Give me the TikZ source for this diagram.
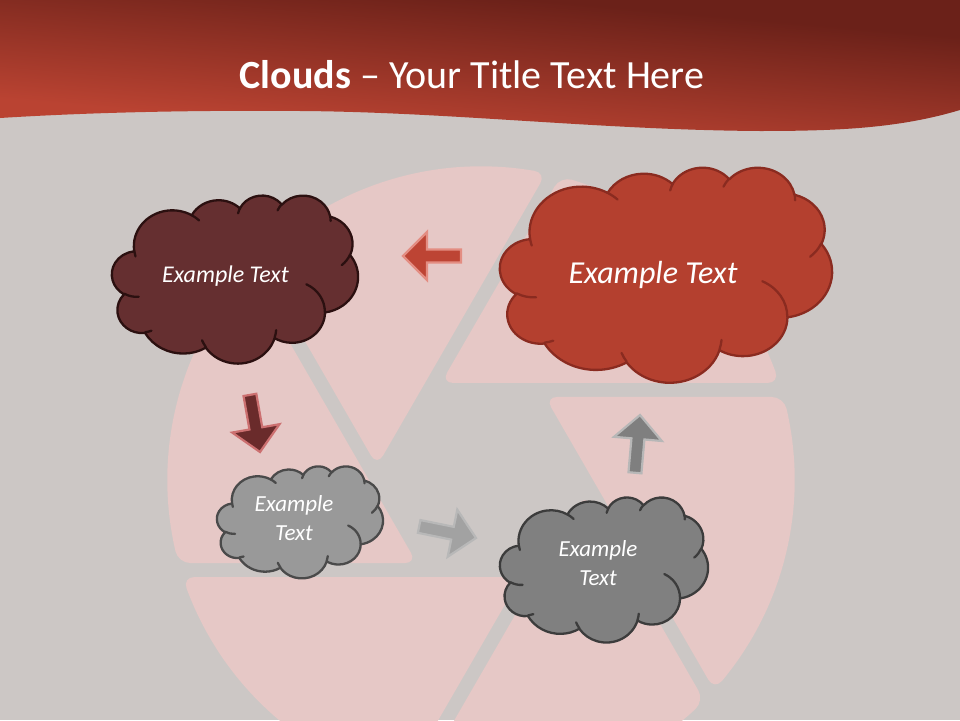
\documentclass[tikz,border=0pt]{standalone}
\usepackage{fontspec}
\setmainfont{Carlito}
\usetikzlibrary{calc}
\definecolor{bg}{HTML}{CCC7C5}
\definecolor{blade}{HTML}{E6C8C6}
\definecolor{hdark}{HTML}{6B2119}
\definecolor{hlight}{HTML}{BA4332}
\definecolor{maroonF}{HTML}{652F30}
\definecolor{maroonD}{HTML}{2B1010}
\definecolor{redF}{HTML}{B4402F}
\definecolor{redD}{HTML}{8A2B20}
\definecolor{lgrayF}{HTML}{999999}
\definecolor{lgrayD}{HTML}{4A4A4A}
\definecolor{dgrayF}{HTML}{808080}
\definecolor{dgrayD}{HTML}{3C3C3C}
\definecolor{arRedF}{HTML}{BD4434}
\definecolor{arRedD}{HTML}{E38D82}
\definecolor{arMarF}{HTML}{6A2B2B}
\definecolor{arMarD}{HTML}{CC7070}
\definecolor{arG1F}{HTML}{A2A2A2}
\definecolor{arG1D}{HTML}{B8B8B8}
\definecolor{arG2F}{HTML}{7F7F7F}
\definecolor{arG2D}{HTML}{B7B7B7}
\pgfdeclareverticalshading{hdrshade}{100bp}{color(0bp)=(hlight); color(42bp)=(hlight); color(58.5bp)=(hdark); color(100bp)=(hdark)}
% arc of DrawingML type (visual angles) on an ellipse wR x hR
\newcommand\carc[4]{arc[x radius=#1, y radius=#2, start angle={atan2(#1*sin(#3),#2*cos(#3))}, delta angle={mod(atan2(#1*sin(#3+#4),#2*cos(#3+#4))-atan2(#1*sin(#3),#2*cos(#3))+720,360)}]}
\newcommand\cloudmain{(39.00,143.70)
  \carc{67.53}{91.90}{-190.487}{123.781}
  \carc{53.33}{72.67}{-144.102}{89.945}
  \carc{43.65}{59.45}{-145.808}{99.723}
  \carc{48.57}{65.95}{-130.986}{117.242}
  \carc{53.33}{72.73}{-78.709}{109.027}
  \carc{67.75}{92.20}{-46.267}{130.269}
  \carc{57.85}{78.67}{0.625}{114.033}
  \carc{67.52}{92.15}{22.452}{115.173}
  \carc{77.20}{105.43}{66.243}{75.711}
  \carc{43.60}{59.18}{-274.942}{146.736}
  \carc{43.45}{59.45}{-246.829}{152.519} -- cycle}
\newcommand\cloudinner{
  (46.93,261.77) \carc{43.45}{59.45}{86.742}{26.430}
  (69.28,348.99) \carc{43.60}{59.18}{73.611}{11.447}
  (164.78,390.90) \carc{67.52}{92.15}{137.624}{14.081}
  (288.27,347.51) \carc{67.52}{92.15}{6.453}{15.998}
  (341.29,229.54) \carc{57.85}{78.67}{-70.292}{70.917}
  (417.98,153.54) \carc{53.33}{72.73}{30.318}{27.752}
  (383.24,54.26) \carc{48.57}{65.95}{-13.744}{14.859}
  (290.78,39.52) \carc{48.57}{65.95}{-149.181}{18.195}
  (221.41,47.20) \carc{43.65}{59.45}{-163.494}{17.686}
  (140.00,51.92) \carc{67.53}{91.90}{-66.707}{12.319}
  (41.27,157.89) \carc{67.53}{91.90}{157.654}{11.858}}
\newcommand\drawcloud[6]{%
  \begin{scope}[shift={(#1,#2)}, x={({#3/432*1pt},0pt)}, y={(0pt,{-#4/432*1pt})}]
    \fill[#5] \cloudmain;
    \draw[cloudline, #6] \cloudinner;
    \draw[cloudline, #6] \cloudmain;
  \end{scope}}
\newcommand\blockarrow[5]{%
  \begin{scope}[shift={(#1,#2)}, rotate=#3]
    \filldraw[fill=#4, draw=#5, line width=2.2pt, line join=miter]
      (0,0) -- (-24,-24) -- (-24,-6.5) -- (-58,-6.5) -- (-58,6.5) -- (-24,6.5) -- (-24,24) -- cycle;
  \end{scope}}
\newcommand\headerpath{(0,0) -- (960,0) -- (960,110) .. controls (900,128) and (840,131) .. (760,131)
  .. controls (600,130) and (450,112) .. (300,111)
  .. controls (180,110) and (80,113) .. (0,118) -- cycle}
\tikzset{
  cloudline/.style={line width=2.3pt, line join=round, line cap=round},
  bladefill/.style={fill=blade, rounded corners=12pt},
  cloudtext/.style={text=white, font=\itshape\fontsize{23}{28.5}\selectfont, align=center, inner sep=0pt},
}
\begin{document}
\begin{tikzpicture}[x=1pt, y=-1pt]
\useasboundingbox (0,0) rectangle (960,720);
\fill[bg] (0,0) rectangle (960,720);
% aperture: six blades round the centre C
\coordinate (C) at (481,480);
\foreach \k in {0,...,5}{
  \fill[bladefill] ($(C)+({60*\k}:104)+({60*\k+90}:14)$)
    foreach \i in {0,...,12} { -- ($(C)+({60*\k+102-4.7775*\i}:314)$) } -- cycle;
}
% header
\begin{scope}
  \clip \headerpath;
  \shade[shading=hdrshade, transform canvas={rotate around={-5:(480,65)}}] (-300,-150) rectangle (1300,290);
\end{scope}
\node[text=white, font=\fontsize{40}{46}\selectfont, anchor=base] (title) at (472,88)
  {\textbf{Clouds} – Your Title Text Here};
% clouds
\drawcloud{112}{195}{246}{168}{maroonF}{maroonD}
\drawcloud{500}{167}{332}{215}{redF}{redD}
\drawcloud{217}{466}{166}{112}{lgrayF}{lgrayD}
\drawcloud{500}{497}{208}{145}{dgrayF}{dgrayD}
\node[cloudtext, font=\itshape\fontsize{24}{28}\selectfont, anchor=base] (t1) at (225.5,282) {Example Text};
\node[cloudtext, font=\itshape\fontsize{32}{36}\selectfont, anchor=base] (t2) at (653,283) {Example Text};
\node[cloudtext] (t3) at (294,518) {Example\\Text};
\node[cloudtext] (t4) at (598,563) {Example\\Text};
% arrows
\blockarrow{403}{256}{180}{arRedF}{arRedD}
\blockarrow{260}{452}{-80}{arMarF}{arMarD}
\blockarrow{476}{538}{-11.5}{arG1F}{arG1D}
\blockarrow{640}{415}{85}{arG2F}{arG2D}
\end{tikzpicture}
\end{document}
